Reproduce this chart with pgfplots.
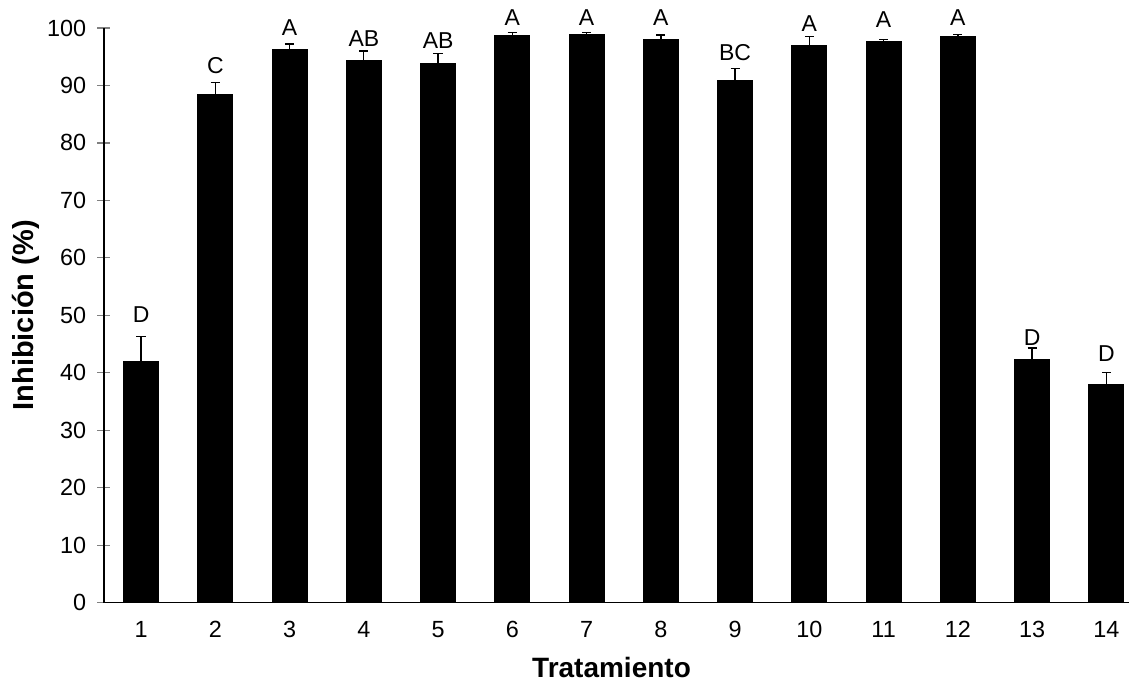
\documentclass[border=0pt]{standalone}
\usepackage{pgfplots}
\pgfplotsset{compat=1.18}
\usepackage{pgfplotstable}
\usepackage{fontspec}
\setmainfont{Liberation Sans}
\pgfplotstableread{
x y err
1 41.9 4.4
2 88.4 2.1
3 96.2 1.0
4 94.4 1.6
5 93.9 1.6
6 98.7 0.5
7 98.8 0.4
8 98.0 0.8
9 90.8 2.2
10 96.9 1.6
11 97.7 0.3
12 98.6 0.3
13 42.4 1.9
14 38.0 2.1
}\datatable
\begin{document}
\begin{tikzpicture}
\begin{axis}[
  at={(0,0)}, anchor=south west,
  scale only axis,
  width=513pt, height=287.5pt,
  xmin=0.5, xmax=14.31,
  ymin=0, ymax=100,
  axis x line=bottom, axis y line=left,
  axis line style={-, line width=0.6pt},
  xtick={1,...,14},
  xtick style={draw=none},
  ytick={0,10,...,100},
  tick align=center,
  major tick length=6.5pt,
  ytick style={line width=0.6pt},
  tick label style={font=\fontsize{11.7}{13}\selectfont},
  /pgf/number format/assume math mode=true,
  yticklabel style={anchor=east, inner sep=0pt, xshift=-5.5pt},
  xticklabel style={anchor=north, inner sep=0pt, yshift=-6pt},
  xlabel={\textbf{Tratamiento}},
  ylabel={\textbf{Inhibición (\%)}},
  xlabel style={font=\fontsize{14}{16}\selectfont, at={(axis description cs:0.495,-0.113)}, anchor=center},
  ylabel style={font=\fontsize{14.5}{17}\selectfont, at={(axis description cs:-0.076,0.5)}, anchor=center, rotate=0},
  clip=false,
]
\addplot[ybar, bar width=17.5pt, fill=black, draw=black,
  error bars/.cd, y dir=plus, y explicit,
  error bar style={line width=0.65pt, black},
  error mark options={rotate=90, mark size=2.3pt, line width=0.65pt, black}]
  table[x=x, y=y, y error=err] {\datatable};
\begin{scope}[every node/.style={font=\fontsize{11.5}{13}\selectfont, anchor=center, inner sep=0pt}]
\node at (axis cs:1,50.2) {D};
\node at (axis cs:2,93.5) {C};
\node at (axis cs:3,100.1) {A};
\node at (axis cs:4,98.2) {AB};
\node at (axis cs:5,97.8) {AB};
\node at (axis cs:6,101.8) {A};
\node at (axis cs:7,101.8) {A};
\node at (axis cs:8,101.8) {A};
\node at (axis cs:9,95.7) {BC};
\node at (axis cs:10,100.8) {A};
\node at (axis cs:11,101.5) {A};
\node at (axis cs:12,101.8) {A};
\node at (axis cs:13,46.2) {D};
\node at (axis cs:14,43.3) {D};
\end{scope}
\end{axis}
\path[use as bounding box] (-52pt,-41pt) rectangle (513pt,301.5pt);
\end{tikzpicture}
\end{document}
